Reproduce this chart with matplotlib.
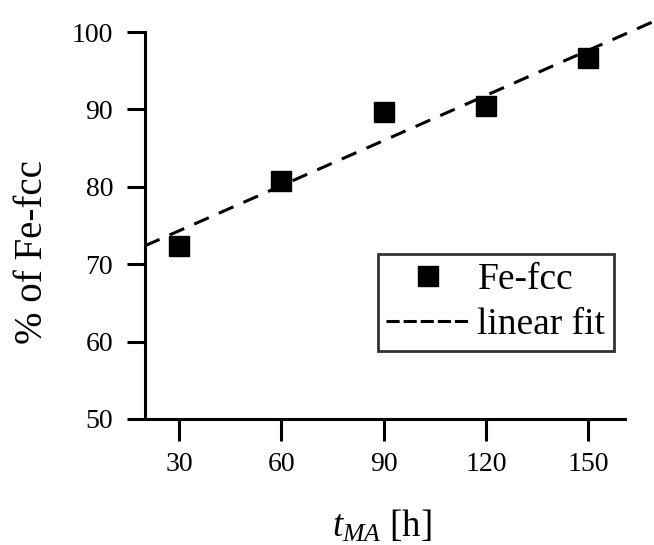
import numpy as np
import matplotlib
matplotlib.use("Agg")
import matplotlib.pyplot as plt
from matplotlib.lines import Line2D
from matplotlib.legend_handler import HandlerLine2D

t_hours = [30, 60, 90, 120, 150]
fe_fcc = [72.4, 80.7, 89.7, 90.4, 96.7]
x_ticks = [30, 60, 90, 120, 150]
y_ticks = [50, 60, 70, 80, 90, 100]

plt.rcParams['font.family'] = ['Liberation Serif', 'DejaVu Serif']
plt.rcParams['mathtext.fontset'] = 'custom'
plt.rcParams['mathtext.it'] = 'Liberation Serif:italic'
plt.rcParams['mathtext.rm'] = 'Liberation Serif'

W, H = 654, 545
fig = plt.figure(figsize=(W / 100, H / 100), dpi=100)
ax = fig.add_axes([145 / W, 1 - 419 / H, (624.5 - 145) / W, (419 - 32) / H])

slope, intercept = np.polyfit(t_hours, fe_fcc, 1)
xf = np.array([20, 172])
ax.plot(xf, slope * xf + intercept, color='black', lw=2.2, dashes=(5.2, 3.6),
        clip_on=False, zorder=2)
ax.plot(t_hours, fe_fcc, 's', color='black', markersize=14, zorder=3)

ax.set_xlim(20, 160.6)
ax.set_ylim(50, 100)
ax.set_xticks(x_ticks)
ax.set_yticks(y_ticks)
for s in ['top', 'right']:
    ax.spines[s].set_visible(False)
for s in ['left', 'bottom']:
    ax.spines[s].set_linewidth(2.2)
ax.tick_params(axis='y', direction='out', length=13, width=2.2, labelsize=20, pad=10)
ax.tick_params(axis='x', direction='out', length=16, width=2.2, labelsize=20, pad=8)

ax.set_ylabel('% of Fe-fcc', fontsize=28)
ax.yaxis.label.set_rotation_mode('default')
ax.yaxis.label.set_va('center')
ax.yaxis.set_label_coords(33 / W, 1 - 252 / H, transform=fig.transFigure)

ax.set_xlabel(r'$t_{MA}$ [h]', fontsize=26.5)
ax.xaxis.label.set_va('baseline')
ax.xaxis.set_label_coords(381.5 / W, 1 - 537 / H, transform=fig.transFigure)


class ShiftedMarkerHandler(HandlerLine2D):
    def get_xdata(self, legend, xdescent, ydescent, width, height, fontsize):
        xdata, xmark = super().get_xdata(legend, xdescent, ydescent, width, height, fontsize)
        return xdata, [x + 0.13 * width for x in xmark]


h_pts = Line2D([], [], ls='none', marker='s', color='black', markersize=14)
h_fit = Line2D([], [], color='black', lw=2.2, dashes=(4.3, 1.3))
leg = fig.legend([h_pts, h_fit], ['Fe-fcc', 'linear fit'], loc='upper left',
                 bbox_to_anchor=(378 / W, 1 - 254 / H), fontsize=27,
                 frameon=True, fancybox=False, edgecolor='black',
                 handlelength=2.25, handletextpad=0.18, borderpad=0.22,
                 labelspacing=0.3, borderaxespad=0,
                 handler_map={h_pts: ShiftedMarkerHandler(numpoints=1)})
leg.get_frame().set_linewidth(2.0)

fig.savefig('out.png', dpi=100)
